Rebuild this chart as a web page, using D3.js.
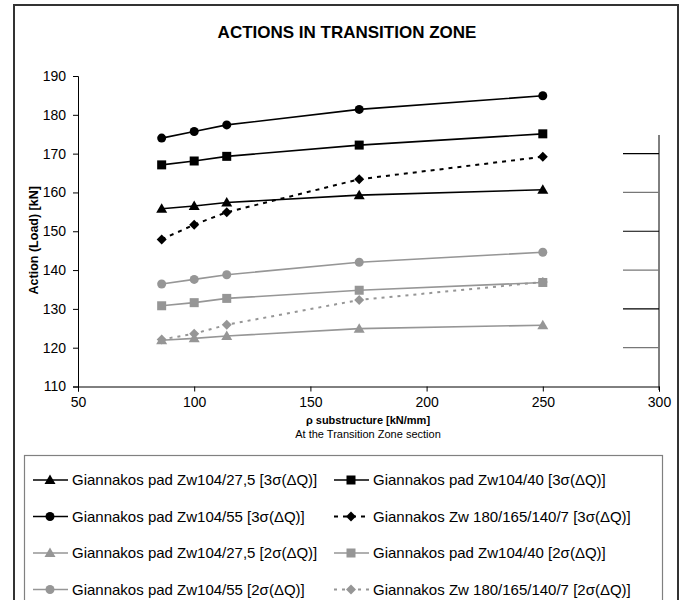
<!DOCTYPE html>
<html><head><meta charset="utf-8">
<script src="https://cdn.jsdelivr.net/npm/d3@7"></script>
<style>body{margin:0;background:#fff}svg{display:block;font-family:"Liberation Sans",Arial,sans-serif}</style>
</head><body><svg id="c" width="686" height="600"></svg>
<script>
const xValues = [86, 100, 114, 171, 250];
const xTicks = [50, 100, 150, 200, 250, 300];
const yTicks = [110, 120, 130, 140, 150, 160, 170, 180, 190];
const pad27_3 = [155.8, 156.5, 157.4, 159.3, 160.7];
const pad40_3 = [167.1, 168.1, 169.3, 172.2, 175.1];
const pad55_3 = [174.0, 175.7, 177.4, 181.4, 184.9];
const zw180_3 = [147.9, 151.7, 154.9, 163.4, 169.2];
const pad27_2 = [121.9, 122.4, 123.0, 124.9, 125.8];
const pad40_2 = [130.8, 131.6, 132.7, 134.8, 136.8];
const pad55_2 = [136.4, 137.6, 138.8, 142.0, 144.6];
const zw180_2 = [122.1, 123.6, 125.9, 132.3, 136.9];
const seriesNames = [
  "Giannakos pad Zw104/27,5 [3σ(ΔQ)]", "Giannakos pad Zw104/40 [3σ(ΔQ)]",
  "Giannakos pad Zw104/55 [3σ(ΔQ)]", "Giannakos Zw 180/165/140/7 [3σ(ΔQ)]",
  "Giannakos pad Zw104/27,5 [2σ(ΔQ)]", "Giannakos pad Zw104/40 [2σ(ΔQ)]",
  "Giannakos pad Zw104/55 [2σ(ΔQ)]", "Giannakos Zw 180/165/140/7 [2σ(ΔQ)]"];
const sideLevels = [170, 160, 150, 140, 130, 120];

const BLACK = "#000", GRAY = "#969696";
const series = [
  {name: seriesNames[0], v: pad27_3, c: BLACK, m: "tri", dash: null},
  {name: seriesNames[1], v: pad40_3, c: BLACK, m: "sq", dash: null},
  {name: seriesNames[2], v: pad55_3, c: BLACK, m: "circ", dash: null},
  {name: seriesNames[3], v: zw180_3, c: BLACK, m: "dia", dash: "4,5"},
  {name: seriesNames[4], v: pad27_2, c: GRAY, m: "tri", dash: null},
  {name: seriesNames[5], v: pad40_2, c: GRAY, m: "sq", dash: null},
  {name: seriesNames[6], v: pad55_2, c: GRAY, m: "circ", dash: null},
  {name: seriesNames[7], v: zw180_2, c: GRAY, m: "dia", dash: "3,5"}
];

const svg = d3.select("#c");
const x = d3.scaleLinear().domain([50, 300]).range([78, 659]);
const y = d3.scaleLinear().domain([110, 190]).range([386.5, 76]);

// outer frame
svg.append("rect").attr("x", 14).attr("y", 5).attr("width", 664).attr("height", 640)
  .attr("fill", "none").attr("stroke", "#333").attr("stroke-width", 2);

svg.append("text").attr("x", 347).attr("y", 38).attr("text-anchor", "middle")
  .attr("font-weight", "bold").attr("font-size", 17).text("ACTIONS IN TRANSITION ZONE");

// right side decoration
svg.append("line").attr("x1", 659).attr("x2", 659).attr("y1", y(174.8)).attr("y2", 390)
  .attr("stroke", "#000");
sideLevels.forEach((lv, i) => {
  svg.append("line").attr("x1", 623).attr("x2", 659).attr("y1", y(lv)).attr("y2", y(lv))
    .attr("stroke", i % 2 ? "#777" : "#000").attr("stroke-width", 1.2);
});

const xAxis = svg.append("g").attr("transform", `translate(0,${y(110)})`)
  .call(d3.axisBottom(x).tickValues(xTicks).tickSize(5).tickPadding(6));
const yAxis = svg.append("g").attr("transform", `translate(${x(50)},0)`)
  .call(d3.axisLeft(y).tickValues(yTicks).tickSize(5).tickPadding(7));
[xAxis, yAxis].forEach(a => {
  a.select(".domain").attr("stroke", "#000");
  a.selectAll("line").attr("stroke", "#000");
  a.selectAll("text").attr("font-size", 14).attr("font-family", "Liberation Sans, Arial").attr("fill", "#000");
});

svg.append("text").attr("transform", `translate(38,${(y(110)+y(190))/2 + 9}) rotate(-90)`)
  .attr("text-anchor", "middle").attr("font-weight", "bold").attr("font-size", 12.5)
  .text("Action (Load)  [kN]");
svg.append("text").attr("x", 368).attr("y", 424).attr("text-anchor", "middle")
  .attr("font-weight", "bold").attr("font-size", 11).text("ρ substructure [kN/mm]");
svg.append("text").attr("x", 368).attr("y", 438).attr("text-anchor", "middle")
  .attr("font-size", 11).text("At the Transition Zone section");

function marker(g, type, cx, cy, col) {
  if (type === "circ") g.append("circle").attr("cx", cx).attr("cy", cy).attr("r", 4.5).attr("fill", col);
  else if (type === "sq") g.append("rect").attr("x", cx-4.5).attr("y", cy-4.5).attr("width", 9).attr("height", 9).attr("fill", col);
  else if (type === "tri") g.append("path").attr("d", `M${cx},${cy-5.5}L${cx+5.5},${cy+4}L${cx-5.5},${cy+4}Z`).attr("fill", col);
  else if (type === "dia") g.append("path").attr("d", `M${cx},${cy-5}L${cx+5},${cy}L${cx},${cy+5}L${cx-5},${cy}Z`).attr("fill", col);
}

const line = d3.line().x((d, i) => x(xValues[i])).y(d => y(d));
const drawOrder = [4, 5, 6, 7, 0, 1, 2, 3];
drawOrder.forEach(k => {
  const s = series[k];
  const g = svg.append("g");
  g.append("path").attr("d", line(s.v)).attr("fill", "none").attr("stroke", s.c)
    .attr("stroke-width", s.dash ? 2 : 1.6).attr("stroke-dasharray", s.dash);
  s.v.forEach((v, i) => marker(g, s.m, x(xValues[i]), y(v), s.c));
});

// legend
svg.append("rect").attr("x", 24.5).attr("y", 455.5).attr("width", 638).attr("height", 200)
  .attr("fill", "#fff").attr("stroke", "#808080").attr("stroke-width", 1.2);
const colX = [33, 334];
const rowY = [480, 516.5, 553, 589.5];
series.forEach((s, i) => {
  const lx = colX[i % 2], ly = rowY[Math.floor(i / 2)];
  const g = svg.append("g");
  g.append("line").attr("x1", lx).attr("x2", lx + 35).attr("y1", ly).attr("y2", ly)
    .attr("stroke", s.c).attr("stroke-width", s.dash ? 2 : 1.6).attr("stroke-dasharray", s.dash);
  marker(g, s.m, lx + 17, ly, s.c);
  g.append("text").attr("x", lx + 39).attr("y", ly + 5).attr("font-size", 15).text(s.name);
});
</script></body></html>
